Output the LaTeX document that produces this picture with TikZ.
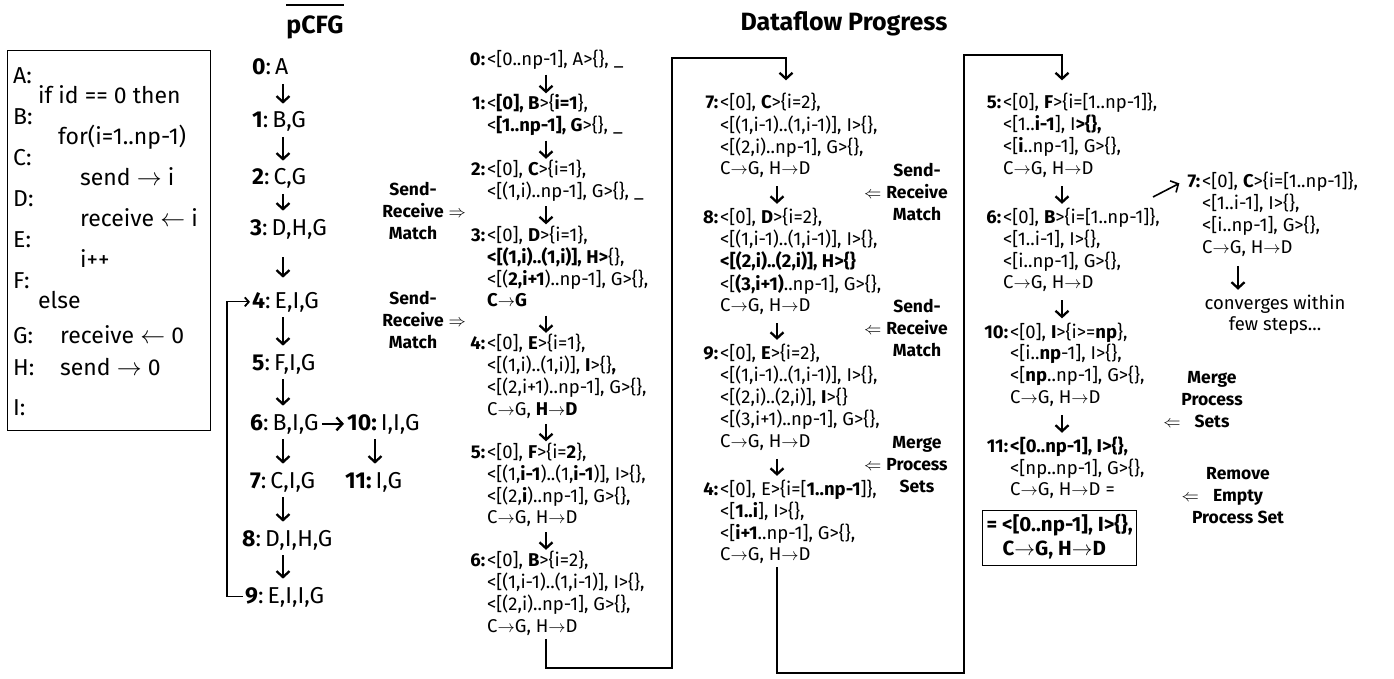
\documentclass[tikz,border=0pt]{standalone}
\usepackage{fontspec}
\setmainfont{Fira Sans}
\usetikzlibrary{arrows.meta,positioning,calc}

\newcommand{\stl}[1]{\llap{\textbf{#1}\hspace{2pt}}}
\newcommand{\pto}{\ensuremath{\rightarrow}}
\newcommand{\lto}{\ensuremath{\leftarrow}}
\newcommand{\rows}[1]{\begin{tabular}[t]{@{}l@{}}#1\end{tabular}}
\newcommand{\crows}[1]{\begin{tabular}[t]{@{}c@{}}#1\end{tabular}}
\newcommand{\pl}[1]{\textbf{#1}:\hspace{4pt}}

\tikzset{
  cell/.style  = {anchor=base west, inner sep=0pt, font=\fontsize{18.5}{21.5}\selectfont},
  pnode/.style = {anchor=base west, inner sep=0pt, font=\fontsize{23}{27}\selectfont},
  note/.style  = {anchor=base, inner sep=0pt, font=\bfseries\fontsize{17.5}{22}\selectfont},
  ttl/.style   = {inner sep=0pt, font=\bfseries\fontsize{25}{30}\selectfont},
  darr/.style  = {-{Straight Barb[length=6pt,width=13pt]}, line width=2.3pt,
                  shorten <=2pt, shorten >=1pt},
  wire/.style  = {line width=1.2pt, shorten >=13pt,
                  -{Straight Barb[length=6pt,width=13pt,line width=2.3pt]}},
  pwire/.style = {line width=1.2pt, shorten >=2pt, shorten <=2pt,
                  -{Straight Barb[length=4pt,width=9pt,line width=1.8pt]}}
}

\begin{document}
\begin{tikzpicture}[x=1pt, y=-1pt]
\useasboundingbox (0,0) rectangle (1394,679);

% titles
\node[ttl] (tcfg)  at (315,27) {pCFG};
\node[ttl] (tflow) at (844,24) {Dataflow Progress};
\draw[line width=1.3pt] ([yshift=10pt]tcfg.north west) -- ([yshift=10pt]tcfg.north east);

% program
\node[draw, line width=1.3pt, anchor=north west, inner sep=0pt,
      minimum width=203pt, minimum height=380pt] (prog) at (7,50) {};
\node[anchor=north west, inner sep=0pt, align=left,
      font=\fontsize{23}{20.5}\selectfont\setlength{\lineskiplimit}{-40pt}] (progtext) at (13,67)
  {A:\\
   \hspace*{25pt}if id == 0 then\\
   B:\\
   \hspace*{45pt}for(i=1..np-1)\\
   C:\\
   \hspace*{67pt}send \pto{} i\\
   D:\\
   \hspace*{67pt}receive \lto{} i\\
   E:\\
   \hspace*{67pt}i++\\
   F:\\
   \hspace*{25pt}else\\[14pt]
   \makebox[47pt][l]{G:}receive \lto{} 0\\[12pt]
   \makebox[47pt][l]{H:}send \pto{} 0\\[19pt]
   I:};

% pCFG
\node[pnode] (p0)  at (252,75)  {\pl{0}A};
\node[pnode] (p1)  at (252,128) {\pl{1}B,G};
\node[pnode] (p2)  at (252,185) {\pl{2}C,G};
\node[pnode] (p3)  at (250,235) {\pl{3}D,H,G};
\node[pnode] (p4)  at (252,308) {\pl{4}E,I,G};
\node[pnode] (p5)  at (252,370) {\pl{5}F,I,G};
\node[pnode] (p6)  at (250,430) {\pl{6}B,I,G};
\node[pnode] (p10) at (347,430) {\textbf{10:}\hspace{4pt}I,I,G};
\node[pnode] (p7)  at (250,488) {\pl{7}C,I,G};
\node[pnode] (p11) at (345,488) {\textbf{11:}\hspace{4pt}I,G};
\node[pnode] (p8)  at (242,546) {\pl{8}D,I,H,G};
\node[pnode] (p9)  at (245,603) {\pl{9}E,I,I,G};

\coordinate (pax) at (283,0);
\coordinate (qax) at (375,0);
\coordinate (plx) at (227,0);
\foreach \a/\b in {p0/p1,p1/p2,p2/p3,p4/p5,p5/p6,p6/p7,p7/p8,p8/p9}
  \draw[darr, shorten <=9pt, shorten >=8pt] (\a.base -| pax) -- (\b.north -| pax);
\draw[darr, shorten <=22pt, shorten >=14pt] (p3.base -| pax) -- (p4.north -| pax);
\draw[darr, shorten <=3pt, shorten >=3pt] (p6.east) -- (p10.west);
\draw[darr, shorten <=9pt, shorten >=8pt] (p10.base -| qax) -- (p11.north -| qax);
\draw[pwire] (p9.west) -- (p9.west -| plx) -- (p4.west -| plx) -- (p4.west);

% progress, first column
\node[cell] (a0) at (487,66)    {\rows{\stl{0:}<[0..np-1], A>\{\}, \_}};
\node[cell] (a1) at (487,110)   {\rows{\stl{1:}<\textbf{[0], B}>\{\textbf{i=1}\},\\
                                        <\textbf{[1..np-1], G}>\{\}, \_}};
\node[cell] (a2) at (487,175.5) {\rows{\stl{2:}<[0], \textbf{C}>\{i=1\},\\
                                        <[(1,i)..np-1], G>\{\}, \_}};
\node[cell] (a3) at (487,241)   {\rows{\stl{3:}<[0], \textbf{D}>\{i=1\},\\
                                        \textbf{<[(1,i)..(1,i)], H>}\{\},\\
                                        <[(\textbf{2,i+1})..np-1], G>\{\},\\
                                        \textbf{C\pto G}}};
\node[cell] (a4) at (487,349.5) {\rows{\stl{4:}<[0], \textbf{E}>\{i=1\},\\
                                        <[(1,i)..(1,i)], \textbf{I}>\{\}\textbf{,}\\
                                        <[(2,i+1)..np-1], G>\{\},\\
                                        C\pto G, \textbf{H\pto D}}};
\node[cell] (a5) at (487,458)   {\rows{\stl{5:}<[0], \textbf{F}>\{i=\textbf{2}\},\\
                                        <[(1,\textbf{i-1})..(1,\textbf{i-1})], I>\{\},\\
                                        <[(2,\textbf{i})..np-1], G>\{\},\\
                                        C\pto G, H\pto D}};
\node[cell] (a6) at (487,566.5) {\rows{\stl{6:}<[0], \textbf{B}>\{i=2\},\\
                                        <[(1,i-1)..(1,i-1)], I>\{\},\\
                                        <[(2,i)..np-1], G>\{\},\\
                                        C\pto G, H\pto D}};

\node[note] (m1) at (413,196) {\crows{Send-\\Receive\rlap{\hspace{5pt}$\Rightarrow$}\\Match}};
\node[note] (m2) at (413,304) {\crows{Send-\\Receive\rlap{\hspace{5pt}$\Rightarrow$}\\Match}};

% progress, second column
\node[cell] (b7) at (720,109)   {\rows{\stl{7:}<[0], \textbf{C}>\{i=2\},\\
                                        <[(1,i-1)..(1,i-1)], I>\{\},\\
                                        <[(2,i)..np-1], G>\{\},\\
                                        C\pto G, H\pto D}};
\node[cell] (b8) at (720,223.5) {\rows{\stl{8:}<[0], \textbf{D}>\{i=2\},\\
                                        <[(1,i-1)..(1,i-1)], I>\{\},\\
                                        \textbf{<[(2,i)..(2,i)], H>\{\}}\\
                                        <[\textbf{(3,i+1)}..np-1], G>\{\},\\
                                        C\pto G, H\pto D}};
\node[cell] (b9) at (720,359.5) {\rows{\stl{9:}<[0], \textbf{E}>\{i=2\},\\
                                        <[(1,i-1)..(1,i-1)], I>\{\},\\
                                        <[(2,i)..(2,i)], \textbf{I}>\{\}\\
                                        <[(3,i+1)..np-1], G>\{\},\\
                                        C\pto G, H\pto D}};
\node[cell] (b4) at (720,495.5) {\rows{\stl{4:}<[0], E>\{i=[\textbf{1..np-1}]\},\\
                                        <[\textbf{1..i}], I>\{\},\\
                                        <[\textbf{i+1}..np-1], G>\{\},\\
                                        C\pto G, H\pto D}};

\node[note] (m3) at (917,176.5) {\crows{Send-\\\llap{$\Leftarrow$\hspace{5pt}}Receive\\Match}};
\node[note] (m4) at (917,312.5) {\crows{Send-\\\llap{$\Leftarrow$\hspace{5pt}}Receive\\Match}};
\node[note] (m5) at (917,448.5) {\crows{Merge\\\llap{$\Leftarrow$\hspace{5pt}}Process\\Sets}};

% progress, third column
\node[cell] (c5)  at (1003,109)   {\rows{\stl{5:}<[0], \textbf{F}>\{i=[1..np-1]\},\\
                                          <[1..\textbf{i-1}], I\textbf{>\{\},}\\
                                          <[\textbf{i}..np-1], G>\{\},\\
                                          C\pto G, H\pto D}};
\node[cell] (c6)  at (1003,223.5) {\rows{\stl{6:}<[0], \textbf{B}>\{i=[1..np-1]\},\\
                                          <[1..i-1], I>\{\},\\
                                          <[i..np-1], G>\{\},\\
                                          C\pto G, H\pto D}};
\node[cell] (c10) at (1010,338)   {\rows{\stl{10:}<[0], \textbf{I}>\{i>=\textbf{np}\},\\
                                          <[i..\textbf{np}-1], I>\{\},\\
                                          <[\textbf{np}..np-1], G>\{\},\\
                                          C\pto G, H\pto D}};
\node[cell] (c11) at (1010,452.5) {\rows{\stl{11:}\textbf{<[0..np-1], I>\{\},}\\
                                          <[np..np-1], G>\{\},\\
                                          C\pto G, H\pto D =}};
\node[cell, draw, line width=1.2pt, inner xsep=4pt, inner ysep=3pt,
      font=\fontsize{20.5}{24}\selectfont] (cfin) at (982,531)
  {\rows{\textbf{= <[0..np-1], I>\{\},}\\ \hspace*{16pt}\textbf{C\pto G, H\pto D}}};

\node[cell] (c7) at (1202,188) {\rows{\stl{7:}<[0], \textbf{C}>\{i=[1..np-1]\},\\
                                       <[1..i-1], I>\{\},\\
                                       <[i..np-1], G>\{\},\\
                                       C\pto G, H\pto D}};
\node[cell, anchor=base] (conv) at (1275,309) {\crows{converges within\\few steps...}};

\node[note] (m6) at (1212,383) {\crows{Merge\\Process\\\llap{$\Leftarrow$\hspace{14pt}}Sets}};
\node[note] (m7) at (1238,479) {\crows{Remove\\\llap{$\Leftarrow$\hspace{14pt}}Empty\\Process Set}};

% arrows inside the columns
\coordinate (ax1)  at (546,0);
\coordinate (ax2)  at (777,0);
\coordinate (ax2t) at (786,0);
\coordinate (ax3)  at (1062,0);
\coordinate (ax7)  at (1238,0);
\foreach \a/\b in {a0/a1,a1/a2,a2/a3,a3/a4,a4/a5,a5/a6}
  \draw[darr] (\a.south -| ax1) -- (\b.north -| ax1);
\foreach \a/\b in {b7/b8,b8/b9,b9/b4}
  \draw[darr, shorten <=5pt, shorten >=4pt] (\a.south -| ax2) -- (\b.north -| ax2);
\foreach \a/\b in {c5/c6,c6/c10,c10/c11}
  \draw[darr, shorten <=5pt, shorten >=4pt] (\a.south -| ax3) -- (\b.north -| ax3);
\draw[darr, shorten <=6pt, shorten >=4pt] (c7.south -| ax7) -- (conv.north -| ax7);

\coordinate (brs) at (1153,197);
\draw[darr, line width=1.6pt, shorten <=0pt, shorten >=3pt] (brs) -- ($(c7.base west)+(-20,-6)$);

% wires between the columns
\coordinate (w1b) at (672,668);
\coordinate (w1t) at (672,58);
\coordinate (w2b) at (964,673);
\coordinate (w2t) at (964,55);
\draw[wire] (a6.south -| ax1) |- (w1b) -- (w1t) -| (b7.north -| ax2t);
\draw[wire] (b4.south -| ax2) |- (w2b) -- (w2t) -| (c5.north -| ax3);

\end{tikzpicture}
\end{document}
